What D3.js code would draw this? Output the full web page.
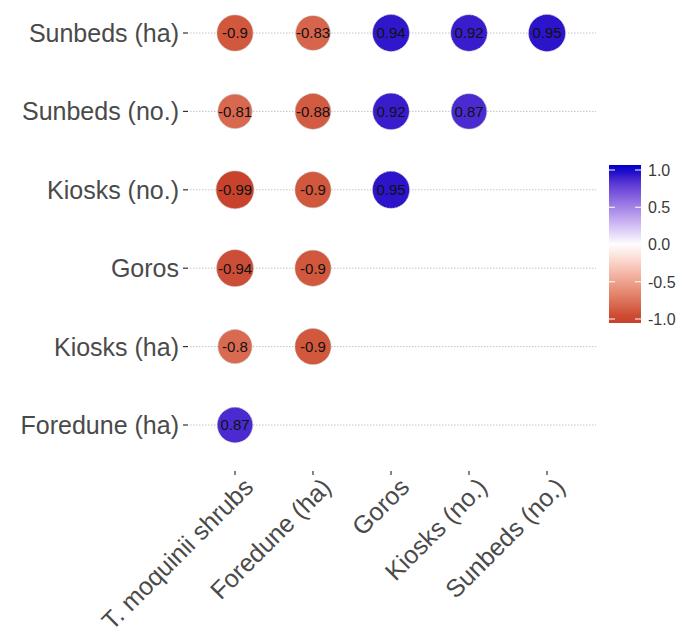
<!DOCTYPE html>
<html>
<head>
<meta charset="utf-8">
<script src="https://cdn.jsdelivr.net/npm/d3@7"></script>
<style>
  html, body { margin: 0; padding: 0; background: #fff; }
  svg { display: block; }
  text { font-family: "Liberation Sans", Arial, sans-serif; }
</style>
</head>
<body>
<svg id="chart" width="691" height="637"></svg>
<script>
// Row variables (top to bottom) and column variables (left to right)
const rowVars = ["Sunbeds (ha)", "Sunbeds (no.)", "Kiosks (no.)", "Goros", "Kiosks (ha)", "Foredune (ha)"];
const colVars = ["T. moquinii shrubs", "Foredune (ha)", "Goros", "Kiosks (no.)", "Sunbeds (no.)"];

// Correlation coefficients per row (lower triangle, left to right)
const sunbedsHa   = [-0.90, -0.83, 0.94, 0.92, 0.95];
const sunbedsNo   = [-0.81, -0.88, 0.92, 0.87];
const kiosksNo    = [-0.99, -0.90, 0.95];
const goros       = [-0.94, -0.90];
const kiosksHa    = [-0.80, -0.90];
const foreduneHa  = [0.87];

const rowValues = [sunbedsHa, sunbedsNo, kiosksNo, goros, kiosksHa, foreduneHa];
const legendTicks = [1.0, 0.5, 0.0, -0.5, -1.0];

const cells = [];
rowVars.forEach((r, i) => {
  rowValues[i].forEach((v, j) => cells.push({ row: r, col: colVars[j], value: v }));
});

const svg = d3.select("#chart");

const x = d3.scalePoint().domain(colVars).range([235, 547]);
const y = d3.scalePoint().domain(rowVars).range([33, 425]);

const panel = { left: 190, right: 596, top: 0, bottom: 466 };

// Diverging fill: red for negative, blue for positive
const color = d3.scaleLinear()
  .domain([-1, 0, 1])
  .range(["#c8412a", "#ffffff", "#0000c8"])
  .interpolate(d3.interpolateLab)
  .clamp(true);

const size = d3.scaleSqrt().domain([0, 1]).range([0, 19]);

// Plain hyphen-minus labels, e.g. "-0.9"
const fmtValue = v => String(v);

// Horizontal dotted grid lines
svg.append("g")
  .selectAll("line")
  .data(rowVars)
  .join("line")
  .attr("x1", panel.left).attr("x2", panel.right)
  .attr("y1", d => y(d)).attr("y2", d => y(d))
  .attr("stroke", "#c4c4c4")
  .attr("stroke-width", 1)
  .attr("stroke-dasharray", "1.5,1.5");

// Y axis: ticks and labels
const yAxis = svg.append("g");
yAxis.selectAll("line")
  .data(rowVars)
  .join("line")
  .attr("x1", panel.left - 7).attr("x2", panel.left - 2)
  .attr("y1", d => y(d)).attr("y2", d => y(d))
  .attr("stroke", "#333").attr("stroke-width", 1.2);
yAxis.selectAll("text")
  .data(rowVars)
  .join("text")
  .attr("x", panel.left - 11)
  .attr("y", d => y(d))
  .attr("dy", "0.36em")
  .attr("text-anchor", "end")
  .attr("font-size", 25)
  .attr("fill", "#4a4a4a")
  .text(d => d);

// X axis: ticks and rotated labels
const xAxis = svg.append("g");
xAxis.selectAll("line")
  .data(colVars)
  .join("line")
  .attr("x1", d => x(d)).attr("x2", d => x(d))
  .attr("y1", panel.bottom + 5).attr("y2", panel.bottom + 9)
  .attr("stroke", "#333").attr("stroke-width", 1.2);
xAxis.selectAll("text")
  .data(colVars)
  .join("text")
  .attr("transform", d => `translate(${x(d) + 7},${panel.bottom + 10}) rotate(-45)`)
  .attr("dy", "0.72em")
  .attr("text-anchor", "end")
  .attr("font-size", 25)
  .attr("fill", "#4a4a4a")
  .text(d => d);

// Correlation circles
const cellG = svg.append("g")
  .selectAll("g")
  .data(cells)
  .join("g")
  .attr("transform", d => `translate(${x(d.col)},${y(d.row)})`);

cellG.append("circle")
  .attr("r", d => size(Math.abs(d.value)))
  .attr("fill", d => color(d.value))
  .attr("stroke", "#bdbdbd")
  .attr("stroke-width", 1)
  .attr("stroke-dasharray", "1.5,1.5");

cellG.append("text")
  .attr("text-anchor", "middle")
  .attr("dy", "0.36em")
  .attr("font-size", 15)
  .attr("fill", "#111")
  .text(d => fmtValue(d.value));

// Colour bar legend
const leg = { x: 609, w: 32, top: 165, bottom: 323 };
const ly = d3.scaleLinear().domain([-1, 1]).range([319, 170]);

const defs = svg.append("defs");
const grad = defs.append("linearGradient")
  .attr("id", "corrGrad")
  .attr("x1", 0).attr("y1", 1).attr("x2", 0).attr("y2", 0);
d3.range(0, 1.0001, 0.05).forEach(t => {
  const yy = leg.bottom - t * (leg.bottom - leg.top);
  grad.append("stop")
    .attr("offset", t)
    .attr("stop-color", color(ly.invert(yy)));
});

const legend = svg.append("g");
legend.append("rect")
  .attr("x", leg.x).attr("y", leg.top)
  .attr("width", leg.w).attr("height", leg.bottom - leg.top)
  .attr("fill", "url(#corrGrad)");

legendTicks.forEach(v => {
  [[leg.x, leg.x + 6], [leg.x + leg.w - 6, leg.x + leg.w]].forEach(([a, b]) => {
    legend.append("line")
      .attr("x1", a).attr("x2", b)
      .attr("y1", ly(v)).attr("y2", ly(v))
      .attr("stroke", "#fff").attr("stroke-width", 1);
  });
});

legend.selectAll("text")
  .data(legendTicks)
  .join("text")
  .attr("x", leg.x + leg.w + 7)
  .attr("y", d => ly(d))
  .attr("dy", "0.36em")
  .attr("font-size", 16)
  .attr("fill", "#3a3a3a")
  .text(d => d3.format(".1f")(d).replace("\u2212", "-"));
</script>
</body>
</html>
